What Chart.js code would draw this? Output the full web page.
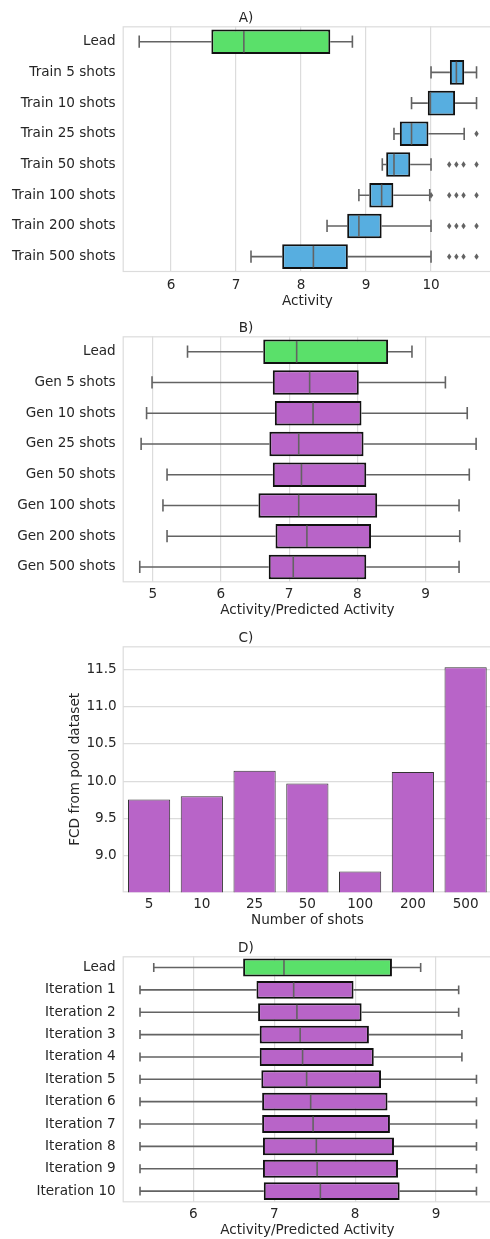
<!DOCTYPE html>
<html>
<head>
<meta charset="utf-8">
<script src="https://cdn.jsdelivr.net/npm/chart.js@4"></script>
<style>
  html, body { margin:0; padding:0; background:#fff; width:490px; height:1239px; overflow:hidden; }
  canvas { position:absolute; left:0; }
</style>
</head>
<body>
<canvas id="cA" width="492" height="310" style="top:0px"></canvas>
<canvas id="cB" width="492" height="309" style="top:310px"></canvas>
<canvas id="cC" width="492" height="309" style="top:620px"></canvas>
<canvas id="cD" width="492" height="309" style="top:930px"></canvas>
<script>
// ---------- DATA ----------
// Panel A
const labelsA = ['Lead','Train 5 shots','Train 10 shots','Train 25 shots','Train 50 shots','Train 100 shots','Train 200 shots','Train 500 shots'];
const loA  = [5.51, 10.00, 9.70, 9.43, 9.25, 8.89, 8.40, 7.23];
const q1A  = [6.62, 10.29, 9.95, 9.52, 9.31, 9.05, 8.71, 7.71];
const medA = [7.12, 10.39, 9.99, 9.70, 9.43, 9.24, 8.89, 8.19];
const q3A  = [8.45, 10.51, 10.37, 9.96, 9.68, 9.42, 9.24, 8.72];
const hiA  = [8.79, 10.70, 10.70, 10.51, 10.00, 9.98, 10.00, 10.00];
const outA = [[], [], [], [10.70], [10.28,10.39,10.50,10.70], [10.00,10.28,10.39,10.50,10.70], [10.28,10.39,10.50,10.70], [10.28,10.39,10.50,10.70]];
const ticksA = [6, 7, 8, 9, 10];

// Panel B
const labelsB = ['Lead','Gen 5 shots','Gen 10 shots','Gen 25 shots','Gen 50 shots','Gen 100 shots','Gen 200 shots','Gen 500 shots'];
const loB  = [5.51, 4.99, 4.91, 4.83, 5.21, 5.15, 5.21, 4.81];
const q1B  = [6.62, 6.76, 6.79, 6.71, 6.76, 6.55, 6.80, 6.70];
const medB = [7.11, 7.30, 7.35, 7.14, 7.18, 7.14, 7.26, 7.06];
const q3B  = [8.45, 8.02, 8.06, 8.09, 8.13, 8.29, 8.20, 8.13];
const hiB  = [8.80, 9.29, 9.61, 9.74, 9.64, 9.49, 9.50, 9.49];
const ticksB = [5, 6, 7, 8, 9];

// Panel C
const labelsC = ['5','10','25','50','100','200','500'];
const valuesC = [9.755, 9.80, 10.14, 9.97, 8.79, 10.125, 11.53];
const ticksC = [9.0, 9.5, 10.0, 10.5, 11.0, 11.5];

// Panel D
const labelsD = ['Lead','Iteration 1','Iteration 2','Iteration 3','Iteration 4','Iteration 5','Iteration 6','Iteration 7','Iteration 8','Iteration 9','Iteration 10'];
const loD  = [5.51, 5.34, 5.34, 5.34, 5.34, 5.34, 5.34, 5.34, 5.34, 5.34, 5.34];
const q1D  = [6.615, 6.78, 6.80, 6.82, 6.82, 6.84, 6.85, 6.85, 6.86, 6.86, 6.87];
const medD = [7.12, 7.24, 7.28, 7.32, 7.35, 7.40, 7.45, 7.48, 7.52, 7.53, 7.57];
const q3D  = [8.455, 7.98, 8.08, 8.17, 8.23, 8.32, 8.40, 8.43, 8.48, 8.53, 8.55];
const hiD  = [8.81, 9.28, 9.28, 9.32, 9.32, 9.50, 9.50, 9.50, 9.50, 9.50, 9.50];
const ticksD = [6, 7, 8, 9];

// ---------- STYLE ----------
const GREEN = '#5ae06a', BLUE = '#57aee0', PURPLE = '#b864c8';
const TEXT = '#262626', GRID = '#dcdcdc', WHISK = '#636363', EDGE = '#111111';
const FS = 13.6;
Chart.defaults.font.family = "'DejaVu Sans', sans-serif";
Chart.defaults.font.size = FS;
Chart.defaults.color = TEXT;

const spinePlugin = {
  id: 'spines',
  beforeDatasetsDraw(chart) {
    const a = chart.chartArea, ctx = chart.ctx;
    ctx.save();
    ctx.strokeStyle = GRID; ctx.lineWidth = 1.2;
    ctx.strokeRect(a.left + 0.5, a.top + 0.5, a.right - a.left - 1, a.bottom - a.top - 1);
    ctx.restore();
  }
};

function boxPlugin(lo, med, hi, out) {
  return {
    id: 'boxExtras',
    beforeDatasetsDraw(chart) {
      const ctx = chart.ctx, xs = chart.scales.x;
      const meta = chart.getDatasetMeta(0);
      ctx.save();
      ctx.strokeStyle = WHISK; ctx.lineWidth = 1.6;
      meta.data.forEach((bar, i) => {
        const p = bar.getProps(['x','y','base','height'], true);
        const yc = p.y, h = p.height;
        const xl = xs.getPixelForValue(lo[i]), xh = xs.getPixelForValue(hi[i]);
        const left = Math.min(p.x, p.base), right = Math.max(p.x, p.base);
        ctx.beginPath();
        ctx.moveTo(xl, yc); ctx.lineTo(left, yc);
        ctx.moveTo(right, yc); ctx.lineTo(xh, yc);
        ctx.moveTo(xl, yc - h / 4); ctx.lineTo(xl, yc + h / 4);
        ctx.moveTo(xh, yc - h / 4); ctx.lineTo(xh, yc + h / 4);
        ctx.stroke();
      });
      ctx.restore();
    },
    afterDatasetsDraw(chart) {
      const ctx = chart.ctx, xs = chart.scales.x;
      const meta = chart.getDatasetMeta(0);
      ctx.save();
      ctx.strokeStyle = WHISK; ctx.fillStyle = WHISK; ctx.lineWidth = 1.6;
      meta.data.forEach((bar, i) => {
        const p = bar.getProps(['y','height'], true);
        const yc = p.y, h = p.height;
        const xm = xs.getPixelForValue(med[i]);
        ctx.beginPath();
        ctx.moveTo(xm, yc - h / 2 + 1.5); ctx.lineTo(xm, yc + h / 2 - 1.5);
        ctx.stroke();
        if (out && out[i]) {
          out[i].forEach(v => {
            const xo = xs.getPixelForValue(v);
            ctx.beginPath();
            ctx.moveTo(xo, yc - 3.2); ctx.lineTo(xo + 2.2, yc);
            ctx.lineTo(xo, yc + 3.2); ctx.lineTo(xo - 2.2, yc);
            ctx.closePath(); ctx.fill();
          });
        }
      });
      ctx.restore();
    }
  };
}

function boxChart(id, title, labels, lo, q1, med, q3, hi, out, colors, xmin, xmax, ticks, xTitle, axisH, tickPad) {
  return new Chart(document.getElementById(id), {
    type: 'bar',
    data: {
      labels: labels,
      datasets: [{
        data: q1.map((v, i) => [v, q3[i]]),
        backgroundColor: colors,
        borderColor: EDGE,
        borderWidth: 2,
        borderSkipped: false,
        categoryPercentage: 1.0,
        barPercentage: 0.8
      }]
    },
    options: {
      indexAxis: 'y',
      responsive: false,
      animation: false,
      layout: { padding: { top: 10, left: 0, right: 0, bottom: 0 } },
      plugins: {
        legend: { display: false },
        tooltip: { enabled: false },
        title: { display: true, text: title, color: TEXT, font: { size: FS, weight: 'normal' }, padding: { top: 0, bottom: 0 } }
      },
      scales: {
        x: {
          type: 'linear', min: xmin, max: xmax,
          afterBuildTicks: s => { s.ticks = ticks.map(v => ({ value: v })); },
          afterFit: s => { s.height = axisH; },
          grid: { color: GRID, lineWidth: 1.2, drawTicks: false, tickLength: 0 },
          border: { display: false },
          ticks: { padding: tickPad, color: TEXT, maxRotation: 0, autoSkip: false },
          title: { display: true, text: xTitle, color: TEXT, padding: { top: 0, bottom: 0 } }
        },
        y: {
          afterFit: s => { s.width = 122.7; },
          grid: { display: false, drawTicks: false, tickLength: 0 },
          border: { display: false },
          ticks: { padding: 7, color: TEXT, autoSkip: false }
        }
      }
    },
    plugins: [spinePlugin, boxPlugin(lo, med, hi, out)]
  });
}

boxChart('cA', 'A)', labelsA, loA, q1A, medA, q3A, hiA, outA,
  labelsA.map((l, i) => i === 0 ? GREEN : BLUE), 5.256, 10.938, ticksA, 'Activity', 38, 5);

boxChart('cB', 'B)', labelsB, loB, q1B, medB, q3B, hiB, null,
  labelsB.map((l, i) => i === 0 ? GREEN : PURPLE), 4.560, 9.973, ticksB, 'Activity/Predicted Activity', 36.7, 4);

boxChart('cD', 'D)', labelsD, loD, q1D, medD, q3D, hiD, null,
  labelsD.map((l, i) => i === 0 ? GREEN : PURPLE), 5.126, 9.692, ticksD, 'Activity/Predicted Activity', 36.7, 3.7);

new Chart(document.getElementById('cC'), {
  type: 'bar',
  data: {
    labels: labelsC,
    datasets: [{
      data: valuesC,
      backgroundColor: PURPLE,
      borderColor: '#333333',
      borderWidth: 1,
      borderSkipped: false,
      categoryPercentage: 1.0,
      barPercentage: 0.8
    }]
  },
  options: {
    responsive: false,
    animation: false,
    layout: { padding: { top: 10, left: 0, right: 0, bottom: 0 } },
    plugins: {
      legend: { display: false },
      tooltip: { enabled: false },
      title: { display: true, text: 'C)', color: TEXT, font: { size: FS, weight: 'normal' }, padding: { top: 0, bottom: 0 } }
    },
    scales: {
      x: {
        afterFit: s => { s.height = 36.7; },
        grid: { display: false, drawTicks: false, tickLength: 0 },
        border: { display: false },
        ticks: { padding: 3.7, color: TEXT, maxRotation: 0, autoSkip: false },
        title: { display: true, text: 'Number of shots', color: TEXT, padding: { top: 0, bottom: 0 } }
      },
      y: {
        type: 'linear', min: 8.51, max: 11.81,
        afterBuildTicks: s => { s.ticks = ticksC.map(v => ({ value: v })); },
        afterFit: s => { s.width = 122.7; },
        grid: { color: GRID, lineWidth: 1.2, drawTicks: false, tickLength: 0 },
        border: { display: false },
        ticks: { padding: 6, color: TEXT, callback: v => Number(v).toFixed(1) },
        title: { display: true, text: 'FCD from pool dataset', color: TEXT, padding: { top: 67, bottom: 0 } }
      }
    }
  },
  plugins: [spinePlugin]
});
</script>
</body>
</html>
